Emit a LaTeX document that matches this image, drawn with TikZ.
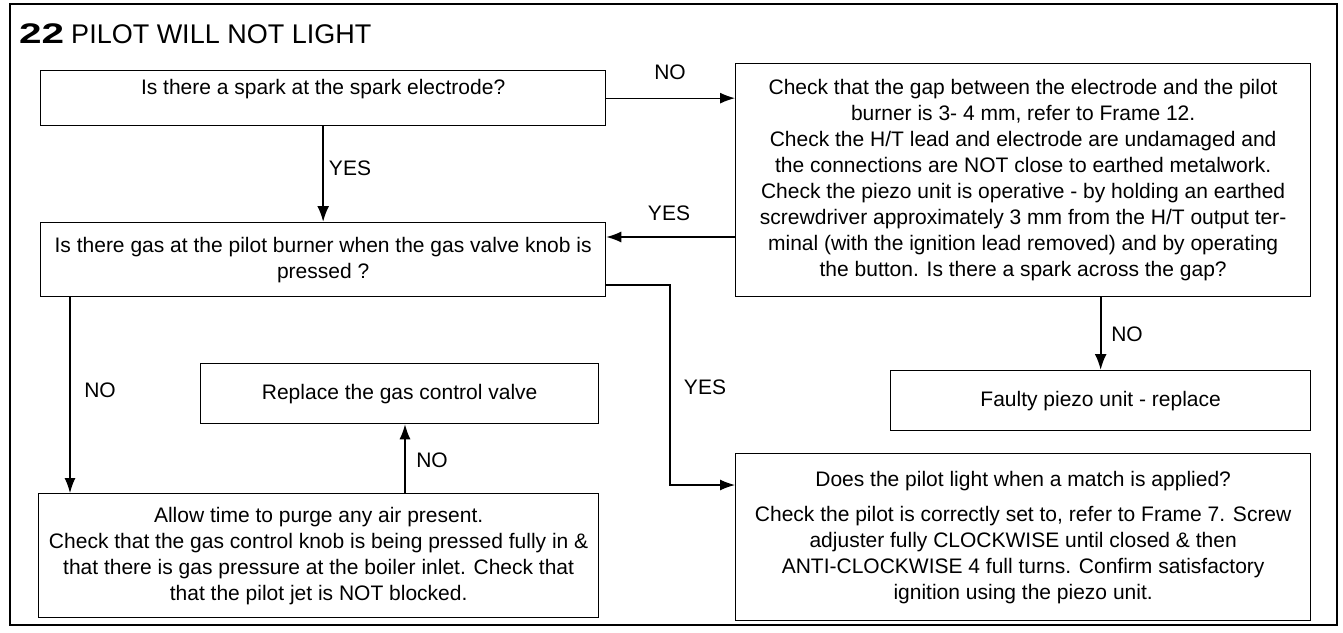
\documentclass[tikz,border=0pt]{standalone}
\usepackage{graphicx}
\usepackage{fontspec}
\setmainfont{Liberation Sans}
\usetikzlibrary{arrows.meta}
\begin{document}
\begin{tikzpicture}[x=1pt,y=-1pt,
  txt/.style={font=\fontsize{21}{26}\selectfont},
  box/.style={draw, line width=1.3pt, inner sep=0pt, align=center, txt, anchor=north west},
  arr/.style={line width=1.3pt, -{Latex[length=15pt,width=11pt]}},
  thickarr/.style={line width=2.2pt, -{Latex[length=16pt,width=12pt]}},
  lab/.style={txt, inner sep=0pt}]
\useasboundingbox (0,0) rectangle (1343,632);
\draw[line width=1.6pt] (10,4) rectangle (1337,625);
\node[anchor=base west, inner sep=0pt, font=\fontsize{27}{32}\selectfont] (title) at (19,43)
  {{\bfseries\scalebox{1.5}[1.05]{22}}\hspace{7pt}PILOT WILL NOT LIGHT};
% boxes
\node[box, minimum width=565pt, text height=24pt, text depth=31pt] (b1) at (40,70)
  {Is there a spark at the spark electrode?};
\node[box, minimum width=575pt, minimum height=233pt] (b2) at (735,63)
  {Check that the gap between the electrode and the pilot\\
   burner is 3- 4 mm, refer to Frame 12.\\
   Check the H/T lead and electrode are undamaged and\\
   the connections are NOT close to earthed metalwork.\\
   Check the piezo unit is operative - by holding an earthed\\
   screwdriver approximately 3 mm from the H/T output ter-\\
   minal (with the ignition lead removed) and by operating\\
   the button. Is there a spark across the gap?};
\node[box, minimum width=565pt, minimum height=74pt] (b3) at (40,222)
  {Is there gas at the pilot burner when the gas valve knob is\\ pressed ?};
\node[box, minimum width=420pt, minimum height=60pt] (b4) at (890,370)
  {Faulty piezo unit - replace};
\node[box, minimum width=398pt, minimum height=60pt] (b5) at (200,363)
  {Replace the gas control valve};
\node[box, minimum width=560pt, minimum height=124pt] (b6) at (38,493)
  {Allow time to purge any air present.\\
   Check that the gas control knob is being pressed fully in \&\\
   that there is gas pressure at the boiler inlet. Check that\\
   that the pilot jet is NOT blocked.};
\node[box, minimum width=575pt, minimum height=167pt] (b7) at (735,453)
  {Does the pilot light when a match is applied?\\[9pt]
   Check the pilot is correctly set to, refer to Frame 7. Screw\\
   adjuster fully CLOCKWISE until closed \& then\\
   ANTI-CLOCKWISE 4 full turns. Confirm satisfactory\\
   ignition using the piezo unit.};
% helper coordinates
\coordinate (c1) at (0,237);
\coordinate (j1) at (670,285);
\coordinate (j2) at (670,485);
\coordinate (k1) at (70,0);
\coordinate (m1) at (405,0);
% connectors
\draw[arr] (b1.east) -- (b1.east -| b2.west);
\draw[thickarr] (b1.south) -- (b3.north);
\draw[arr] (b2.west |- c1) -- (b3.east |- c1);
\draw[thickarr] (b2.south -| b4.north) -- (b4.north);
\draw[arr] (b3.east |- j1) -- (j1) -- (j2) -- (j2 -| b7.west);
\draw[arr] (b3.south -| k1) -- (b6.north -| k1);
\draw[arr] (b6.north -| m1) -- (b5.south -| m1);
% labels
\node[lab] (l1) at (670,72) {NO};
\node[lab] (l2) at (350,168) {YES};
\node[lab] (l3) at (669,213) {YES};
\node[lab] (l4) at (1127,334) {NO};
\node[lab] (l5) at (705,387) {YES};
\node[lab] (l6) at (100,390) {NO};
\node[lab] (l7) at (432,460) {NO};
\end{tikzpicture}
\end{document}
